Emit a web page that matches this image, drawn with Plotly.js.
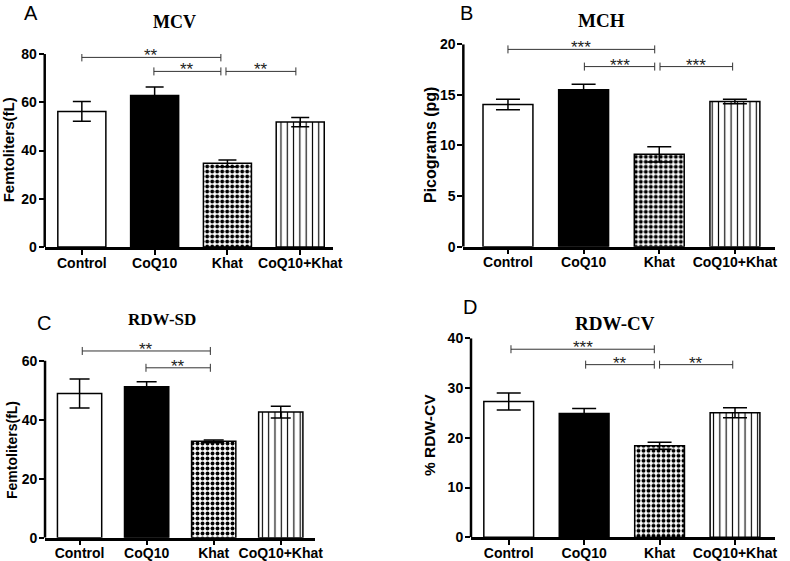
<!DOCTYPE html>
<html>
<head>
<meta charset="utf-8">
<script src="https://cdn.plot.ly/plotly-3.0.1.min.js"></script>
<style>
  html, body { margin: 0; padding: 0; background: #fff; }
  #plot { width: 790px; height: 561px; }
</style>
</head>
<body>
<div id="plot"></div>
<script>
// groups and values
var groups = ['Control', 'CoQ10', 'Khat', 'CoQ10+Khat'];

var mcv = [56.2, 62.8, 34.7, 51.8];
var mcvErr = [4.1, 3.5, 1.4, 1.9];

var mch = [14.05, 15.5, 9.13, 14.35];
var mchErr = [0.52, 0.55, 0.75, 0.22];

var rdwSd = [48.9, 51.2, 32.7, 42.6];
var rdwSdErr = [4.9, 1.7, 0.4, 2.0];

var rdwCv = [27.3, 24.9, 18.4, 25.05];
var rdwCvErr = [1.7, 1.0, 0.7, 1.0];

// significance brackets: [from, to, level, stars]
var sigMcv = [[0, 1.91, 78.6, '**'], [0.99, 1.91, 72.8, '**'], [1.98, 2.94, 72.8, '**']];
var sigMch = [[0, 1.94, 19.5, '***'], [1.01, 1.94, 17.8, '***'], [2.01, 2.97, 17.8, '***']];
var sigRdwSd = [[0.04, 1.95, 63.3, '**'], [0.99, 1.95, 57.6, '**']];
var sigRdwCv = [[0.03, 1.93, 37.8, '***'], [1.02, 1.93, 34.7, '**'], [2.0, 2.97, 34.7, '**']];

var panels = [
  {vals: mcv, err: mcvErr, sig: sigMcv, xd: [0.0566, 0.4215], xr: [-0.51, 3.45], yd: [0.5597, 0.9037], yr: [0, 80], top: 80, dtick: 20, cap: 9},
  {vals: mch, err: mchErr, sig: sigMch, xd: [0.5865, 0.981], xr: [-0.59, 3.53], yd: [0.5603, 0.921], yr: [0, 20], top: 20, dtick: 5, cap: 12},
  {vals: rdwSd, err: rdwSdErr, sig: sigRdwSd, xd: [0.057, 0.3987], xr: [-0.515, 3.51], yd: [0.0415, 0.3833], yr: [0, 65], top: 60, dtick: 20, cap: 10},
  {vals: rdwCv, err: rdwCvErr, sig: sigRdwCv, xd: [0.5962, 0.981], xr: [-0.5, 3.53], yd: [0.0422, 0.397], yr: [0, 40], top: 40, dtick: 10, cap: 12}
];

// fill style of each group: plain white, solid black, checks, vertical lines
var fills = [
  {color: '#fff'},
  {color: '#000'},
  {color: '#fff', pattern: {shape: '.', fgcolor: '#000', bgcolor: '#fff', size: 5, solidity: 0.5}},
  {color: '#fff', pattern: {shape: '|', fgcolor: '#000', bgcolor: '#fff', size: 6.3, solidity: 0.18}}
];

var tickFont = {family: 'Liberation Sans, Arial, sans-serif', size: 14, color: '#000', weight: 'bold'};
var data = [];
var shapes = [];
var annotations = [];
var layout = {
  width: 790, height: 561,
  margin: {l: 0, r: 0, t: 0, b: 0},
  paper_bgcolor: '#fff', plot_bgcolor: '#fff',
  showlegend: false,
  barmode: 'overlay'
};

panels.forEach(function(p, i) {
  var n = i === 0 ? '' : String(i + 1);
  groups.forEach(function(g, j) {
    var mk = {color: fills[j].color, line: {color: '#000', width: 1.5}};
    if (fills[j].pattern) mk.pattern = fills[j].pattern;
    data.push({
      type: 'bar',
      x: [j],
      y: [p.vals[j]],
      width: 0.66,
      xaxis: 'x' + n,
      yaxis: 'y' + n,
      marker: mk,
      error_y: {type: 'data', array: [p.err[j]], visible: true, color: '#000', thickness: 1.5, width: p.cap},
      hoverinfo: 'none'
    });
  });

  layout['xaxis' + n] = {
    domain: p.xd, range: p.xr, anchor: 'y' + n,
    tickvals: [0, 1, 2, 3], ticktext: groups,
    showline: true, linecolor: '#000', linewidth: 2.5,
    ticks: 'outside', ticklen: 5, tickwidth: 2, tickcolor: '#000',
    ticklabelstandoff: -4,
    showgrid: false, zeroline: false, tickfont: tickFont, fixedrange: true
  };
  var tv = [];
  for (var t = 0; t <= p.top; t += p.dtick) tv.push(t);
  layout['yaxis' + n] = {
    domain: p.yd, range: p.yr, anchor: 'x' + n,
    tickmode: 'array', tickvals: tv,
    showline: false,
    ticks: 'outside', ticklen: 5, tickwidth: 2, tickcolor: '#000',
    ticklabelstandoff: -1,
    showgrid: false, zeroline: false, tickfont: tickFont, fixedrange: true
  };

  // y axis line only up to the top tick
  shapes.push({type: 'line', xref: 'x' + n + ' domain', yref: 'y' + n,
    x0: 0, x1: 0, y0: 0, y1: p.top, line: {color: '#000', width: 2.5}});

  p.sig.forEach(function(s) {
    var col = '#333';
    shapes.push({type: 'line', xref: 'x' + n, yref: 'y' + n,
      x0: s[0], x1: s[1], y0: s[2], y1: s[2], line: {color: col, width: 1}});
    [s[0], s[1]].forEach(function(xe) {
      shapes.push({type: 'line', xref: 'x' + n, yref: 'y' + n,
        ysizemode: 'pixel', yanchor: s[2], x0: xe, x1: xe, y0: -4, y1: 4,
        line: {color: col, width: 1}});
    });
    annotations.push({xref: 'x' + n, yref: 'y' + n, x: (s[0] + s[1]) / 2, y: s[2],
      text: s[3], showarrow: false, xanchor: 'center', yanchor: 'bottom', yshift: -10,
      font: {family: 'Liberation Sans, Arial, sans-serif', size: 17, color: '#222'}});
  });
});

// panel letters, titles, axis titles
var letters = [['A', 0.0392, 1.0, 'top'], ['B', 0.590, 1.0, 'top'], ['C', 0.0551, 0.425, 'middle'], ['D', 0.595, 0.452, 'middle']];
letters.forEach(function(l) {
  annotations.push({xref: 'paper', yref: 'paper', x: l[1], y: l[2], text: l[0], showarrow: false,
    xanchor: 'center', yanchor: l[3],
    font: {family: 'Liberation Sans, Arial, sans-serif', size: 20, color: '#000'}});
});

var titles = [['MCV', 0.2215, 0.9608, 18], ['MCH', 0.762, 0.9643, 19], ['RDW-SD', 0.205, 0.4296, 17], ['RDW-CV', 0.7785, 0.4242, 19]];
titles.forEach(function(t) {
  annotations.push({xref: 'paper', yref: 'paper', x: t[1], y: t[2], text: t[0], showarrow: false,
    xanchor: 'center', yanchor: 'middle',
    font: {family: 'Liberation Serif, Times New Roman, serif', size: t[3], color: '#000', weight: 'bold'}});
});

var yTitles = [['Femtoliters(fL)', 0.0105, 0.7326, 15], ['Picograms (pg)', 0.5443, 0.7415, 16],
               ['Femtoliters(fL)', 0.0152, 0.1979, 14], ['% RDW-CV', 0.5443, 0.2246, 15.5]];
yTitles.forEach(function(t) {
  annotations.push({xref: 'paper', yref: 'paper', x: t[1], y: t[2], text: t[0], showarrow: false,
    textangle: -90, xanchor: 'center', yanchor: 'middle',
    font: {family: 'Liberation Sans, Arial, sans-serif', size: t[3], color: '#000', weight: 'bold'}});
});

layout.shapes = shapes;
layout.annotations = annotations;

Plotly.newPlot('plot', data, layout, {displayModeBar: false});
</script>
</body>
</html>
